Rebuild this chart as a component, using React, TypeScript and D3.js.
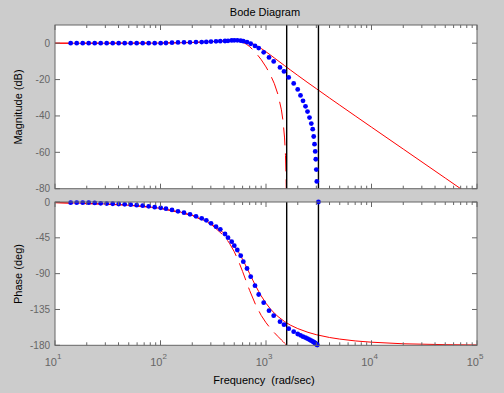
import React from 'react';
import * as d3 from 'd3';

// continuous model (red solid)
const contFreq = [10, 20, 40, 70, 100, 150, 200, 300, 400, 450, 500, 550, 600, 650, 700, 750, 800, 850, 900, 1000, 1100, 1200, 1300, 1500, 1700, 2000, 2500, 3000, 4000, 5000, 7000, 10000, 20000, 50000, 100000];
const contMag = [0, 0, 0.02, 0.05, 0.1, 0.21, 0.37, 0.78, 1.22, 1.4, 1.49, 1.45, 1.26, 0.9, 0.35, -0.33, -1.13, -2.0, -2.9, -4.72, -6.47, -8.11, -9.63, -12.34, -14.69, -17.7, -21.76, -25.0, -30.14, -34.06, -39.95, -46.17, -58.2, -74.15, -86.2];
const contPhase = [-0.8, -1.6, -3.2, -5.5, -8.0, -12.2, -16.6, -26.7, -39.2, -46.4, -54.5, -63.1, -72.1, -81.2, -90, -98.2, -105.6, -112.1, -117.9, -127.2, -134.2, -139.7, -143.9, -150.2, -154.6, -159.0, -163.7, -166.7, -170.2, -172.2, -174.5, -176.1, -178.1, -179.2, -179.6];

// discrete, slow sampling (red dashed)
const dashFreq = [10, 50, 100, 200, 300, 400, 450, 500, 550, 600, 650, 700, 800, 900, 1000, 1100, 1200, 1300, 1400, 1450, 1500, 1530, 1550, 1560, 1570.8];
const dashMag = [0, 0.02, 0.1, 0.38, 0.82, 1.31, 1.47, 1.46, 1.18, 0.55, -0.49, -1.86, -5.25, -9.03, -13.04, -17.37, -22.27, -28.28, -36.66, -42.8, -52.1, -61.8, -73.5, -84.9, null];
const dashPhase = [-0.8, -3.9, -8.0, -16.9, -27.8, -42.4, -51.7, -62.4, -74.5, -87.3, -99.8, -111.2, -129.5, -142.4, -151.6, -158.6, -164.2, -169.0, -173.3, -175.3, -177.3, -178.4, -179.2, -179.6, -180];

// discrete, fast sampling (blue dots)
const dotFreq = [14.08, 16.06, 18.31, 20.86, 23.79, 27.12, 30.9, 35.24, 40.16, 45.78, 52.18, 59.48, 67.8, 77.29, 88.1, 100.4, 112.7, 128.5, 146.5, 167, 190.4, 217, 245.8, 271.8, 301.1, 335.9, 368.8, 408.7, 436.3, 473.1, 500.6, 534.6, 575.7, 609.3, 660.5, 716.1, 786.6, 852.6, 951, 1068, 1183, 1357, 1481, 1641, 1830, 1998, 2123, 2243, 2368, 2474, 2585, 2688, 2772, 2833, 2883, 2928, 2965, 2998, 3030, 3064, 3141.6];
const dotMag = [0, 0, 0, 0, 0, 0, 0, 0, 0, 0, 0, 0, 0, 0, 0, 0, 0.1, 0.3, 0.4, 0.5, 0.5, 0.6, 0.6, 0.7, 0.9, 1.0, 1.1, 1.2, 1.3, 1.5, 1.6, 1.6, 1.4, 1.1, 0.6, -0.3, -1.5, -2.7, -5.0, -7.8, -10.0, -13.3, -15.5, -18.8, -22.1, -25.4, -28.7, -31.7, -34.7, -37.6, -40.9, -44.2, -47.3, -51.3, -55.5, -59.5, -63.8, -69.5, -76.0, -85, null];
const dotPhase = [-0.8, -0.8, -0.8, -0.9, -1.2, -1.7, -2.0, -2.2, -2.5, -2.9, -3.4, -4.0, -4.6, -5.4, -6.5, -7.3, -8.4, -10.0, -11.7, -13.4, -15.5, -18.0, -20.5, -23.0, -26.8, -31.0, -34.3, -40.2, -44.8, -49.8, -54.9, -60.3, -67.4, -75.0, -83.5, -93.8, -105.1, -116.2, -126.5, -136.5, -142.8, -150.3, -154.1, -159.1, -162.9, -165.8, -167.5, -169.2, -170.4, -171.7, -173.0, -174.2, -175.2, -176.0, -176.8, -177.3, -177.8, -178.4, -179.0, -179.6, 0];

const magTicks = [0, -20, -40, -60, -80];
const phaseTicks = [0, -45, -90, -135, -180];
const decades = [1, 2, 3, 4, 5];
const nyquist = [1570.8, 3141.6];

const AX = '#666666';
const FONT = '"Liberation Sans", Arial, sans-serif';

function Panel({ x, y, top, bottom, ticks, id, children, showX }: any) {
  const [l, r] = x.range();
  const minor: number[] = [];
  decades.slice(0, -1).forEach((d) => {
    for (let k = 2; k <= 9; k++) minor.push(k * Math.pow(10, d));
  });
  return (
    <g>
      <defs>
        <clipPath id={id}>
          <rect x={l} y={top} width={r - l} height={bottom - top} />
        </clipPath>
      </defs>
      <rect x={l} y={top} width={r - l} height={bottom - top} fill="#fff" />
      <g clipPath={`url(#${id})`}>{children[0]}</g>
      {children[1]}
      <rect x={l} y={top} width={r - l} height={bottom - top} fill="none" stroke={AX} strokeWidth={1} />
      {decades.map((d) => {
        const px = x(Math.pow(10, d));
        return (
          <g key={'M' + d} stroke={AX}>
            <line x1={px} x2={px} y1={bottom} y2={bottom - 5} />
            <line x1={px} x2={px} y1={top} y2={top + 5} />
          </g>
        );
      })}
      {minor.map((v) => {
        const px = x(v);
        return (
          <g key={'m' + v} stroke={AX}>
            <line x1={px} x2={px} y1={bottom} y2={bottom - 3} />
            <line x1={px} x2={px} y1={top} y2={top + 3} />
          </g>
        );
      })}
      {ticks.map((t: number) => (
        <g key={'y' + t}>
          <line x1={l} x2={l + 5} y1={y(t)} y2={y(t)} stroke={AX} />
          <line x1={r} x2={r - 5} y1={y(t)} y2={y(t)} stroke={AX} />
          <text x={l - 5} y={y(t) + 3.5} textAnchor="end" fontSize={10} fill={AX} fontFamily={FONT}>
            {t}
          </text>
        </g>
      ))}
      {showX &&
        decades.map((d) => (
          <text key={'xl' + d} x={x(Math.pow(10, d)) - 2} y={366} textAnchor="middle" fontSize={11} fill={AX} fontFamily={FONT}>
            10
            <tspan fontSize={8} dy={-7}>{d}</tspan>
          </text>
        ))}
    </g>
  );
}

export default function App() {
  const x = d3.scaleLog().domain([10, 1e5]).range([55, 477]);
  const yMag = d3.scaleLinear().domain([-80, 10]).range([188.7, 25]);
  const yPh = d3.scaleLinear().domain([-180, 0]).range([345.3, 202]);

  const mk = (fs: number[], vs: (number | null)[], ys: any) =>
    d3
      .line<number>()
      .defined((i) => vs[i] !== null)
      .x((i) => x(fs[i]))
      .y((i) => ys(vs[i] as number))(d3.range(fs.length)) || '';

  const dots = (vs: (number | null)[], ys: any, lo: number) =>
    dotFreq.map((f, i) =>
      vs[i] === null || (vs[i] as number) < lo ? null : (
        <circle key={i} cx={x(f)} cy={ys(vs[i] as number)} r={2.4} fill="#0000ff" />
      )
    );

  const vlines = (top: number, bottom: number) =>
    nyquist.map((f) => <line key={f} x1={x(f)} x2={x(f)} y1={top} y2={bottom} stroke="#000" strokeWidth={1.4} />);

  return (
    <div style={{ position: 'fixed', left: 0, top: 0, width: 504, height: 393, background: '#cccccc' }}>
      <svg width={504} height={393} style={{ display: 'block' }}>
        <rect width={504} height={393} fill="#cccccc" />
        <text x={265} y={16} textAnchor="middle" fontSize={11} fontFamily={FONT} fill="#000">
          Bode Diagram
        </text>
        <Panel x={x} y={yMag} top={25} bottom={188.7} ticks={magTicks} id="cm">
          <g>
            <path d={mk(contFreq, contMag, yMag)} fill="none" stroke="#ff0000" strokeWidth={1} />
            <path d={mk(dashFreq, dashMag, yMag)} fill="none" stroke="#ff0000" strokeWidth={1} strokeDasharray="18,8" />
            {vlines(25, 188.7)}
          </g>
          <g>{dots(dotMag, yMag, -80)}</g>
        </Panel>
        <Panel x={x} y={yPh} top={202} bottom={345.3} ticks={phaseTicks} id="cp" showX>
          <g>
            <path d={mk(contFreq, contPhase, yPh)} fill="none" stroke="#ff0000" strokeWidth={1} />
            <path d={mk(dashFreq, dashPhase, yPh)} fill="none" stroke="#ff0000" strokeWidth={1} strokeDasharray="18,8" />
            {vlines(202, 345.3)}
          </g>
          <g>{dots(dotPhase, yPh, -180)}</g>
        </Panel>
        <text transform="translate(22,107) rotate(-90)" textAnchor="middle" fontSize={11} fontFamily={FONT} fill="#000">
          Magnitude (dB)
        </text>
        <text transform="translate(22,274) rotate(-90)" textAnchor="middle" fontSize={11} fontFamily={FONT} fill="#000">
          Phase (deg)
        </text>
        <text x={264} y={384} textAnchor="middle" fontSize={11} fontFamily={FONT} fill="#000" style={{ whiteSpace: 'pre' }}>
          Frequency  (rad/sec)
        </text>
      </svg>
    </div>
  );
}
